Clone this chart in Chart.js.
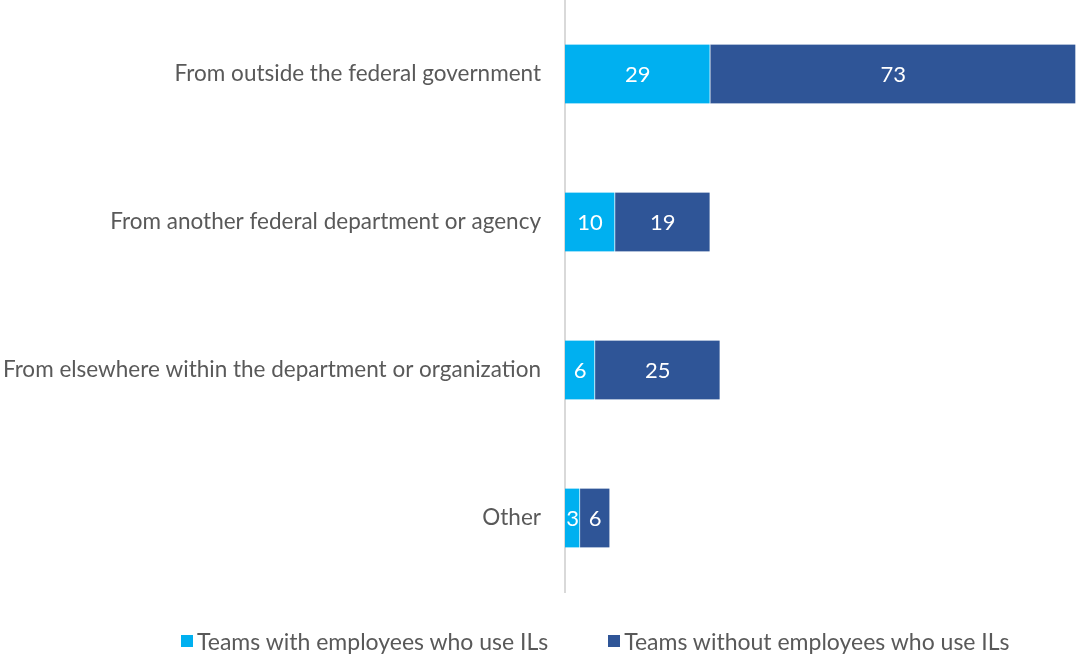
<!DOCTYPE html>
<html>
<head>
<meta charset="utf-8">
<script src="https://cdn.jsdelivr.net/npm/chart.js@4/dist/chart.umd.min.js"></script>
<style>
  body { margin: 0; background: #fff; }
  #wrap { position: relative; width: 1077px; height: 656px; }
  #legend {
    position: absolute; left: 181px; top: 627px;
    display: flex; gap: 60px;
    font-family: Lato, sans-serif; font-size: 23px; color: #595959;
  }
  #legend span.item { display: flex; align-items: center; }
  #legend i { display: inline-block; width: 12px; height: 12px; margin-right: 4px; }
</style>
</head>
<body>
<div id="wrap">
  <canvas id="sourceChart" width="1077" height="656"></canvas>
  <div id="legend"></div>
</div>
<script>
// Where team members came from, by team type
const categories = [
  'From outside the federal government',
  'From another federal department or agency',
  'From elsewhere within the department or organization',
  'Other'
];
const withILs = [29, 10, 6, 3];
const withoutILs = [73, 19, 25, 6];
const seriesNames = ['Teams with employees who use ILs', 'Teams without employees who use ILs'];
const seriesColors = ['#00B0F0', '#2F5597'];

const FONT = 'Lato, sans-serif';

// Writes each segment's value in the middle of its bar
const barValues = {
  id: 'barValues',
  afterDatasetsDraw(chart) {
    const ctx = chart.ctx;
    ctx.save();
    ctx.fillStyle = '#fff';
    ctx.font = '22px ' + FONT;
    ctx.textAlign = 'center';
    ctx.textBaseline = 'middle';
    chart.data.datasets.forEach((ds, i) => {
      chart.getDatasetMeta(i).data.forEach((bar, j) => {
        const p = bar.getProps(['x', 'y', 'base'], true);
        ctx.fillText(ds.data[j], (p.x + p.base) / 2, p.y + 1);
      });
    });
    ctx.restore();
  }
};

new Chart(document.getElementById('sourceChart'), {
  type: 'bar',
  data: {
    labels: categories,
    datasets: [
      { label: seriesNames[0], data: withILs, backgroundColor: seriesColors[0] },
      { label: seriesNames[1], data: withoutILs, backgroundColor: seriesColors[1] }
    ]
  },
  options: {
    indexAxis: 'y',
    responsive: false,
    animation: false,
    layout: { padding: { top: 0, right: 1, bottom: 64, left: 0 } },
    datasets: {
      bar: {
        barThickness: 59,
        borderWidth: { left: 0, right: 1, top: 0, bottom: 0 },
        borderColor: 'rgba(255,255,255,0.6)',
        borderSkipped: false
      }
    },
    plugins: {
      legend: { display: false },
      tooltip: { enabled: false }
    },
    scales: {
      x: { stacked: true, min: 0, max: 102, display: false },
      y: {
        stacked: true,
        grid: { display: false },
        border: { color: '#D9D9D9', width: 2 },
        ticks: { color: '#595959', font: { family: FONT, size: 22.5 }, padding: 16 },
        afterFit(scale) {
          // fixed gutter for the labels, and no extra room above/below the bars
          scale.width = 565;
          scale.paddingTop = 0;
          scale.paddingBottom = 0;
        }
      }
    }
  },
  plugins: [barValues]
});

// Legend under the plot
const legend = document.getElementById('legend');
seriesNames.forEach((name, i) => {
  const item = document.createElement('span');
  item.className = 'item';
  item.innerHTML = '<i style="background:' + seriesColors[i] + '"></i>' + name;
  legend.appendChild(item);
});
</script>
</body>
</html>
